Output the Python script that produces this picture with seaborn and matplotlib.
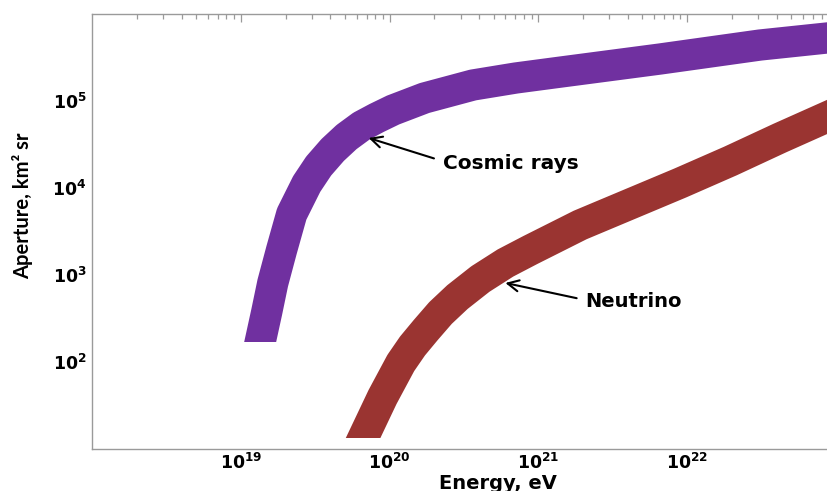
import matplotlib
matplotlib.use("Agg")
import matplotlib.pyplot as plt
from matplotlib.patches import Rectangle
from matplotlib.ticker import LogLocator, NullFormatter, FuncFormatter
import numpy as np
import pandas as pd
import seaborn as sns

# ---- data ----
cosmic_energy = [1.35e19, 1.494e19, 1.64e19, 1.88e19, 2.199e19, 2.773e19, 3.338e19,
                 4.143e19, 5.145e19, 6.488e19, 8.18e19, 1.056e20, 1.718e20,
                 3.635e20, 7.06e20, 1.41e21, 6.59e21, 3.09e22, 8.71e22]
cosmic_aperture = [170, 376, 809, 1940, 5023, 1.112e4, 1.790e4,
                   2.734e4, 3.857e4, 5.160e4, 6.376e4, 7.88e4, 1.083e5,
                   1.527e5, 1.838e5, 2.15e5, 3.04e5, 4.40e5, 5.30e5]

neutrino_energy = [6.64e19, 8.97e19, 1.19e20, 1.426e20, 1.75e20, 2.20e20, 2.86e20,
                   4.08e20, 6.01e20, 8.83e20, 1.91e21, 4.14e21, 8.97e21,
                   1.95e22, 4.21e22, 8.71e22]
neutrino_aperture = [13.4, 39.6, 97.5, 152.8, 233, 366, 558,
                     900, 1374, 1937, 3758, 6546, 1.14e4,
                     2.04e4, 3.76e4, 6.55e4]

x_ticks = [1e19, 1e20, 1e21, 1e22]
y_ticks = [1e2, 1e3, 1e4, 1e5]
labels = ["Cosmic rays", "Neutrino"]
colors = ["#7030A0", "#9A3431"]

sns.set_style("white")
plt.rcParams["font.family"] = ["DejaVu Sans"]
plt.rcParams["mathtext.fontset"] = "dejavusans"
plt.rcParams["text.color"] = "black"
plt.rcParams["axes.labelcolor"] = "black"

fig = plt.figure(figsize=(8.27, 4.91), dpi=100)
ax = fig.add_axes([92 / 827, 42 / 491, 735 / 827, 435 / 491])
ax.set_xscale("log")
ax.set_yscale("log")

df_c = pd.DataFrame({"E": cosmic_energy, "A": cosmic_aperture})
df_n = pd.DataFrame({"E": neutrino_energy, "A": neutrino_aperture})

for df, col in zip([df_c, df_n], colors):
    sns.lineplot(data=df, x="E", y="A", ax=ax, color=col, linewidth=22.5,
                 estimator=None, solid_capstyle="projecting",
                 solid_joinstyle="round")
    line = ax.lines[-1]
    y0 = df["A"].iloc[0]
    clip = Rectangle((1e17, y0), 1e24, 1e8, transform=ax.transData)
    line.set_clip_path(clip)

ax.set_xlim(1e18, 8.71e22)
ax.set_ylim(10, 1e6)

def pow_fmt(v, pos):
    e = int(round(np.log10(v)))
    return r"$\mathbf{10^{%d}}$" % e

ax.set_xticks(x_ticks)
ax.set_yticks(y_ticks)
ax.xaxis.set_major_formatter(FuncFormatter(pow_fmt))
ax.yaxis.set_major_formatter(FuncFormatter(pow_fmt))
ax.xaxis.set_minor_locator(LogLocator(base=10, subs=np.arange(2, 10), numticks=20))
ax.yaxis.set_minor_locator(LogLocator(base=10, subs=np.arange(2, 10), numticks=20))
ax.xaxis.set_minor_formatter(NullFormatter())
ax.yaxis.set_minor_formatter(NullFormatter())

spine_col = "#9a9a9a"
for s in ["left", "bottom", "top"]:
    ax.spines[s].set_color(spine_col)
    ax.spines[s].set_linewidth(1.0)
ax.spines["right"].set_visible(False)

ax.tick_params(which="both", direction="in", top=True, right=False,
               color=spine_col, width=0.9, labelcolor="black")
ax.tick_params(which="major", length=6, labelsize=12.5)
ax.tick_params(axis="x", which="major", pad=3)
ax.tick_params(axis="y", which="major", pad=4)
ax.tick_params(which="minor", length=3.5)

ax.set_xlabel("Energy, eV", fontsize=14, fontweight="bold")
ax.xaxis.set_label_coords((498 - 92) / 735, -0.058)
ax.xaxis.label.set_va("top")
ax.set_ylabel("Aperture, km² sr", fontsize=14.5, fontweight="bold",
              family=["Lato", "DejaVu Sans"])
ax.yaxis.set_label_coords(-0.08, 0.559)

arrow = dict(arrowstyle="->", color="black", lw=1.5, mutation_scale=20,
             shrinkA=4, shrinkB=0)
ax.annotate(labels[0], xy=(7.23e19, 3.76e4), xytext=(2.27e20, 1.89e4),
            fontsize=14.5, fontweight="bold", va="center", ha="left",
            arrowprops=dict(arrow, relpos=(0, 0.65)))
ax.annotate(labels[1], xy=(6.0e20, 810), xytext=(2.07e21, 490),
            fontsize=14, fontweight="bold", va="center", ha="left",
            arrowprops=dict(arrow, relpos=(0, 0.6)))

fig.savefig("out.png", dpi=100)
